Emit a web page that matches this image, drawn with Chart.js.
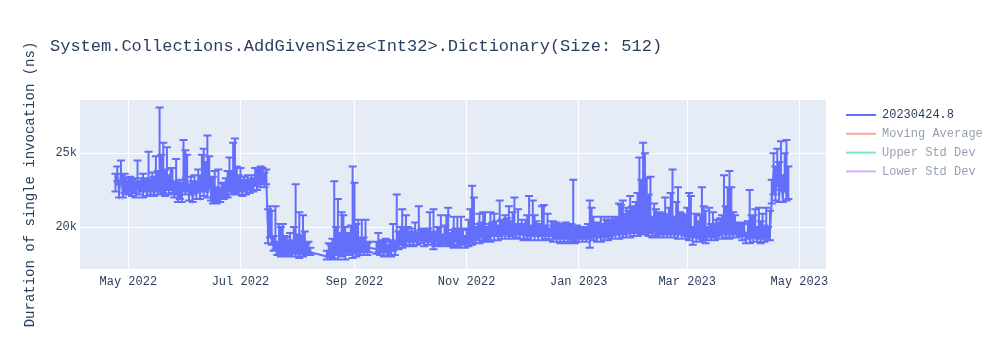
<!DOCTYPE html>
<html><head><meta charset="utf-8">
<script src="https://cdn.jsdelivr.net/npm/chart.js@4.4.1/dist/chart.umd.min.js"></script>
<style>html,body{margin:0;padding:0;background:#fff}canvas{display:block}</style>
</head><body>
<canvas id="c" width="1000" height="350"></canvas>
<script>
const chartTitle = 'System.Collections.AddGivenSize<Int32>.Dictionary(Size: 512)';
const yAxisTitle = 'Duration of single invocation (ns)';
const legendNames = ['20230424.8', 'Moving Average', 'Upper Std Dev', 'Lower Std Dev'];
const legendColors = ['#636efa', '#ef553b', '#00cc96', '#ab63fa'];
const legendVisible = [true, false, false, false];
const xTickDates = ['2022-05-01', '2022-07-01', '2022-09-01', '2022-11-01', '2023-01-01', '2023-03-01', '2023-05-01'];
const xTickLabels = ['May 2022', 'Jul 2022', 'Sep 2022', 'Nov 2022', 'Jan 2023', 'Mar 2023', 'May 2023'];
const xRange = ['2022-04-04T17:00:00Z', '2023-05-15T12:00:00Z'];
const yTickValues = [20000, 25000];
const yTickLabels = ['20k', '25k'];
const yRange = [17160, 28600];

const dates = [
'2022-04-24','2022-04-25','2022-04-26','2022-04-27','2022-04-28','2022-04-29','2022-04-30',
'2022-05-01','2022-05-02','2022-05-03','2022-05-04','2022-05-05','2022-05-06','2022-05-07','2022-05-08','2022-05-09','2022-05-10','2022-05-11','2022-05-12','2022-05-13','2022-05-14','2022-05-15','2022-05-16','2022-05-17','2022-05-18','2022-05-19','2022-05-20','2022-05-21','2022-05-22','2022-05-23','2022-05-24','2022-05-25','2022-05-26','2022-05-27','2022-05-28','2022-05-29','2022-05-30','2022-05-31',
'2022-06-01','2022-06-02','2022-06-03','2022-06-04','2022-06-05','2022-06-06','2022-06-07','2022-06-08','2022-06-09','2022-06-10','2022-06-11','2022-06-12','2022-06-13','2022-06-14','2022-06-15','2022-06-16','2022-06-17','2022-06-18','2022-06-19','2022-06-20','2022-06-21','2022-06-22','2022-06-23','2022-06-24','2022-06-25','2022-06-26','2022-06-27','2022-06-28','2022-06-29','2022-06-30',
'2022-07-01','2022-07-02','2022-07-03','2022-07-04','2022-07-05','2022-07-06','2022-07-07','2022-07-08','2022-07-09','2022-07-10','2022-07-11','2022-07-12','2022-07-13','2022-07-14','2022-07-15','2022-07-16','2022-07-17','2022-07-18','2022-07-19','2022-07-20','2022-07-21','2022-07-22','2022-07-23','2022-07-24','2022-07-25','2022-07-26','2022-07-27','2022-07-28','2022-07-29','2022-07-30','2022-07-31',
'2022-08-01','2022-08-02','2022-08-03','2022-08-04','2022-08-05','2022-08-06','2022-08-07','2022-08-08','2022-08-17','2022-08-18','2022-08-19','2022-08-20','2022-08-21','2022-08-22','2022-08-23','2022-08-24','2022-08-25','2022-08-26','2022-08-27','2022-08-28','2022-08-29','2022-08-30','2022-08-31',
'2022-09-01','2022-09-02','2022-09-03','2022-09-04','2022-09-05','2022-09-06','2022-09-07','2022-09-08','2022-09-09','2022-09-13','2022-09-14','2022-09-15','2022-09-16','2022-09-17','2022-09-18','2022-09-19','2022-09-20','2022-09-21','2022-09-22','2022-09-23','2022-09-24','2022-09-25','2022-09-26','2022-09-27','2022-09-28','2022-09-29','2022-09-30',
'2022-10-01','2022-10-02','2022-10-03','2022-10-04','2022-10-05','2022-10-06','2022-10-07','2022-10-08','2022-10-09','2022-10-10','2022-10-11','2022-10-12','2022-10-13','2022-10-14','2022-10-15','2022-10-16','2022-10-17','2022-10-18','2022-10-19','2022-10-20','2022-10-21','2022-10-22','2022-10-23','2022-10-24','2022-10-25','2022-10-26','2022-10-27','2022-10-28','2022-10-29','2022-10-30','2022-10-31',
'2022-11-01','2022-11-02','2022-11-03','2022-11-04','2022-11-05','2022-11-06','2022-11-07','2022-11-08','2022-11-09','2022-11-10','2022-11-11','2022-11-12','2022-11-13','2022-11-14','2022-11-15','2022-11-16','2022-11-17','2022-11-18','2022-11-19','2022-11-20','2022-11-21','2022-11-22','2022-11-23','2022-11-24','2022-11-25','2022-11-26','2022-11-27','2022-11-28','2022-11-29','2022-11-30',
'2022-12-01','2022-12-02','2022-12-03','2022-12-04','2022-12-05','2022-12-06','2022-12-07','2022-12-08','2022-12-09','2022-12-10','2022-12-11','2022-12-12','2022-12-13','2022-12-14','2022-12-15','2022-12-16','2022-12-17','2022-12-18','2022-12-19','2022-12-20','2022-12-21','2022-12-22','2022-12-23','2022-12-24','2022-12-25','2022-12-26','2022-12-27','2022-12-28','2022-12-29','2022-12-30','2022-12-31',
'2023-01-01','2023-01-02','2023-01-03','2023-01-04','2023-01-05','2023-01-06','2023-01-07','2023-01-08','2023-01-09','2023-01-10','2023-01-11','2023-01-12','2023-01-13','2023-01-14','2023-01-15','2023-01-16','2023-01-17','2023-01-18','2023-01-19','2023-01-20','2023-01-21','2023-01-22','2023-01-23','2023-01-24','2023-01-25','2023-01-26','2023-01-27','2023-01-28','2023-01-29','2023-01-30','2023-01-31',
'2023-02-01','2023-02-02','2023-02-03','2023-02-04','2023-02-05','2023-02-06','2023-02-07','2023-02-08','2023-02-09','2023-02-10','2023-02-11','2023-02-12','2023-02-13','2023-02-14','2023-02-15','2023-02-16','2023-02-17','2023-02-18','2023-02-19','2023-02-20','2023-02-21','2023-02-22','2023-02-23','2023-02-24','2023-02-25','2023-02-26','2023-02-27','2023-02-28',
'2023-03-01','2023-03-02','2023-03-03','2023-03-04','2023-03-05','2023-03-06','2023-03-07','2023-03-08','2023-03-09','2023-03-10','2023-03-11','2023-03-12','2023-03-13','2023-03-14','2023-03-15','2023-03-16','2023-03-17','2023-03-18','2023-03-19','2023-03-20','2023-03-21','2023-03-22','2023-03-23','2023-03-24','2023-03-25','2023-03-26','2023-03-27','2023-03-28','2023-03-29','2023-03-30','2023-03-31',
'2023-04-01','2023-04-02','2023-04-03','2023-04-04','2023-04-05','2023-04-06','2023-04-07','2023-04-08','2023-04-09','2023-04-10','2023-04-11','2023-04-12','2023-04-13','2023-04-14','2023-04-15','2023-04-16','2023-04-17','2023-04-18','2023-04-19','2023-04-20','2023-04-21','2023-04-22','2023-04-23','2023-04-24','2023-04-25'
];

const durations = [
22900,23500,22400,23700,22300,23100,22600,
22500,23000,22400,22800,22300,23100,22500,22900,22300,22800,22400,23000,22500,23100,22400,23200,22600,23400,22500,23000,22400,23100,22600,23300,22700,22300,22800,22100,22600,22000,23300,
22700,23200,22200,22800,22000,23000,22300,22900,22200,23400,22600,23100,22400,23500,22300,21900,22600,21900,22400,22000,22500,22100,22700,22300,23000,22600,23300,22800,23400,22500,
23000,22400,22900,22500,23100,22600,23000,22700,23300,22800,23500,23000,23600,23100,23400,19500,20000,19200,18700,19000,18400,18700,18200,18600,18300,18700,18200,18500,18300,18700,18400,
18600,18200,18800,18300,18700,18400,18600,18300,18000,18400,18000,18500,18100,18600,18200,18800,18300,18700,18200,18900,18400,18800,18300,
18700,18300,18900,18400,18800,18300,18700,18400,18600,18500,18900,18400,18800,18300,18700,18200,18600,18300,18800,18400,19100,18800,19300,18900,19400,19000,19500,
19100,19500,19000,19400,19100,19600,19200,19500,19000,19400,19100,19500,19100,19400,19000,19500,19100,19300,18900,19400,19000,19300,18900,19300,18900,19400,19000,19300,18800,19200,18900,
19300,19000,19500,19100,19600,19200,19700,19300,19800,19300,19700,19200,19600,19300,19800,19400,19900,19400,19800,19500,20000,19500,19900,19400,19900,19500,20100,19600,20000,19500,
19900,19400,20000,19500,19900,19400,20000,19500,19900,19400,19800,19400,19900,19500,19900,19400,19800,19300,19700,19200,19600,19200,19700,19300,19600,19200,19700,19300,19500,19200,19600,
19200,19600,19300,19700,19300,19700,19400,19800,19400,19800,19300,19700,19300,19800,19400,19800,19400,19900,19500,19900,19500,20000,19500,20000,19600,20100,19700,20200,19700,20300,19800,
20400,19800,20300,19900,20400,19900,20300,19800,20200,19700,20200,19700,20100,19600,20100,19600,20000,19600,20100,19600,20100,19600,20000,19500,20000,19500,20000,19500,
19900,19400,19900,19400,19800,19300,19800,19300,19800,19400,19900,19400,19900,19400,19800,19400,19900,19500,20000,19500,20000,19600,20100,19600,20100,19600,20000,19600,20000,19700,19400,
19800,19200,19700,19200,19800,19300,19800,19300,19700,19200,19700,19300,19800,19400,19600,21900,23700,22300,23900,22100,23500,22000,23300,22200,23000
];

const errorPlus = [
700,600,500,800,1300,500,700,
600,400,800,500,700,1400,600,400,1300,500,900,2100,700,600,1000,1600,1200,4700,2400,2700,1500,2300,900,700,1300,800,1800,900,600,1000,2600,
2500,1700,700,600,1100,500,800,1000,1300,1500,2700,1300,3800,1300,1000,1500,1200,800,1500,600,500,800,600,1500,1700,1200,2400,3200,700,1000,
1000,800,500,700,400,600,500,600,700,1200,500,1100,400,600,500,1700,1400,1900,700,2400,600,1500,1800,1600,1100,600,900,1100,800,1300,4500,
900,2800,600,2500,1000,500,400,300,400,500,800,700,5000,1400,3700,800,2700,2100,1800,700,1100,1300,5800,
4300,1900,1600,900,1700,1000,1800,500,400,500,700,600,300,800,500,600,400,800,1400,600,3100,900,700,2300,600,1800,500,
600,400,700,900,500,1800,600,400,900,500,800,1500,600,1800,700,500,900,1500,600,700,1800,2000,700,500,1800,500,1700,600,1900,600,500,
600,1500,1700,3700,2400,800,500,1600,500,1700,1300,800,600,1700,500,1500,500,700,2000,1000,400,1300,700,2000,500,1500,1900,600,1200,700,
600,800,500,1300,2200,700,1800,1300,500,800,400,2000,1600,600,1000,500,600,1100,400,1100,600,1000,500,900,700,1000,500,900,3700,800,500,
800,400,700,300,700,500,2400,1500,1300,500,1000,500,1400,400,1300,700,1300,500,1200,600,1200,600,2100,1500,2200,800,1600,900,2400,1100,1600,
1300,2500,4400,3300,5300,5100,3000,2400,3200,1000,1400,1500,800,1400,700,1300,2000,1200,1200,2700,3800,1100,1700,3200,1000,1400,800,1200,
1400,2900,2200,600,1100,1600,600,1500,2900,2000,1200,600,1400,800,1200,700,600,800,600,1300,3500,1800,2600,4200,2600,1400,800,700,300,600,900,
400,400,700,3300,1000,1500,1400,700,1600,1200,1200,800,1500,600,1500,1300,1300,1800,1400,2300,2300,1500,1700,3700,1100
];

const errorMinus = [
500,400,400,600,300,800,400,
300,600,300,500,300,500,300,500,300,400,300,600,300,700,300,800,400,1000,300,700,300,600,400,800,400,300,600,400,700,300,900,
500,800,400,600,300,700,400,500,300,900,500,700,400,900,500,300,900,300,700,300,500,200,600,300,600,400,900,500,1000,300,
600,300,500,300,600,300,500,300,500,300,600,300,700,400,500,600,700,400,300,500,300,500,200,500,300,500,200,500,300,500,400,
400,300,500,300,500,300,400,200,200,400,200,600,300,500,400,700,300,500,400,600,300,500,400,
500,300,600,300,500,200,400,300,300,300,600,300,500,300,400,200,500,300,400,300,500,300,500,300,600,300,500,
300,500,300,400,300,500,300,400,300,400,300,500,300,900,300,500,300,400,200,500,300,500,200,500,300,400,300,500,200,400,300,
400,300,500,300,500,300,600,400,500,300,600,200,500,300,400,300,500,300,400,300,500,300,400,200,500,300,600,300,500,300,
400,300,500,300,500,300,600,400,500,300,400,300,500,300,500,300,400,300,500,200,400,300,500,300,400,300,500,300,400,300,400,
200,400,300,500,300,500,800,500,300,500,300,400,300,500,300,500,300,500,300,400,300,500,300,500,300,600,400,500,400,700,400,
700,400,700,400,800,400,600,400,600,400,500,300,600,300,500,300,500,300,500,300,600,300,500,300,500,300,500,300,
500,300,600,600,500,300,500,300,600,300,1000,300,500,300,500,300,500,300,500,300,500,300,500,400,600,300,500,300,500,300,300,
400,300,500,300,500,300,500,300,500,300,500,300,500,300,500,300,1500,500,1100,400,1000,300,900,400,1100
];

const FONT = '"Liberation Mono", "Courier New", monospace';
const TEXT_COLOR = '#2a3f5f';
const toMs = s => Date.parse(s.length === 10 ? s + 'T00:00:00Z' : s);

const bgPlugin = {
  id: 'plotBg',
  beforeDraw(chart) {
    const { ctx, chartArea: a } = chart;
    ctx.save();
    ctx.fillStyle = '#e5ecf6';
    ctx.fillRect(a.left, a.top, a.right - a.left, a.bottom - a.top);
    ctx.restore();
  }
};

const errorBarPlugin = {
  id: 'errorBars',
  beforeDatasetsDraw(chart) {
    const { ctx, chartArea: a, scales: { x, y } } = chart;
    ctx.save();
    ctx.beginPath();
    ctx.rect(a.left, a.top, a.right - a.left, a.bottom - a.top);
    ctx.clip();
    ctx.strokeStyle = '#636efa';
    ctx.lineWidth = 2;
    ctx.beginPath();
    for (let i = 0; i < dates.length; i++) {
      const px = x.getPixelForValue(toMs(dates[i]));
      const yt = y.getPixelForValue(durations[i] + errorPlus[i]);
      const yb = y.getPixelForValue(durations[i] - errorMinus[i]);
      ctx.moveTo(px, yt); ctx.lineTo(px, yb);
      ctx.moveTo(px - 4, yt); ctx.lineTo(px + 4, yt);
      ctx.moveTo(px - 4, yb); ctx.lineTo(px + 4, yb);
    }
    ctx.stroke();
    ctx.restore();
  }
};

const textPlugin = {
  id: 'titleLegend',
  afterDraw(chart) {
    const { ctx, chartArea: a } = chart;
    ctx.save();
    ctx.fillStyle = TEXT_COLOR;
    ctx.font = '17px ' + FONT;
    ctx.textBaseline = 'alphabetic';
    ctx.textAlign = 'left';
    ctx.fillText(chartTitle, 50, 51);
    ctx.font = '12px ' + FONT;
    ctx.textBaseline = 'middle';
    const lx = a.right + 20;
    for (let i = 0; i < legendNames.length; i++) {
      const ly = 115 + i * 18.8;
      ctx.globalAlpha = legendVisible[i] ? 1 : 0.5;
      ctx.strokeStyle = legendColors[i];
      ctx.lineWidth = 2;
      ctx.beginPath();
      ctx.moveTo(lx, ly); ctx.lineTo(lx + 30, ly);
      ctx.stroke();
      ctx.fillStyle = TEXT_COLOR;
      ctx.fillText(legendNames[i], lx + 36, ly);
    }
    ctx.restore();
  }
};

new Chart(document.getElementById('c'), {
  type: 'line',
  data: {
    datasets: [{
      label: legendNames[0],
      data: dates.map((d, i) => ({ x: toMs(d), y: durations[i] })),
      borderColor: '#636efa',
      backgroundColor: '#636efa',
      borderWidth: 2,
      pointRadius: 0,
      tension: 0,
      fill: false
    }]
  },
  options: {
    responsive: false,
    devicePixelRatio: 1,
    animation: false,
    events: [],
    layout: { padding: { left: 18, top: 100, right: 174, bottom: 51 } },
    plugins: { legend: { display: false }, tooltip: { enabled: false }, title: { display: false } },
    scales: {
      x: {
        type: 'linear',
        min: toMs(xRange[0]),
        max: toMs(xRange[1]),
        afterBuildTicks: s => { s.ticks = xTickDates.map(d => ({ value: toMs(d) })); },
        afterFit: s => { s.height = 30; },
        ticks: {
          callback: (v, i) => xTickLabels[i],
          color: TEXT_COLOR, font: { family: FONT, size: 12 },
          padding: 6, maxRotation: 0, autoSkip: false
        },
        grid: { color: '#ffffff', lineWidth: 1, drawTicks: false },
        border: { display: false }
      },
      y: {
        type: 'linear',
        min: yRange[0],
        max: yRange[1],
        afterBuildTicks: s => { s.ticks = yTickValues.map(v => ({ value: v })); },
        afterFit: s => { s.width = 62; },
        ticks: {
          callback: (v, i) => yTickLabels[i],
          color: TEXT_COLOR, font: { family: FONT, size: 12 },
          padding: 3
        },
        grid: { color: '#ffffff', lineWidth: 1, drawTicks: false },
        border: { display: false },
        title: {
          display: true, text: yAxisTitle, color: TEXT_COLOR,
          font: { family: FONT, size: 14 }, padding: { top: 4, bottom: 4 }
        }
      }
    }
  },
  plugins: [bgPlugin, errorBarPlugin, textPlugin]
});
</script>
</body></html>
